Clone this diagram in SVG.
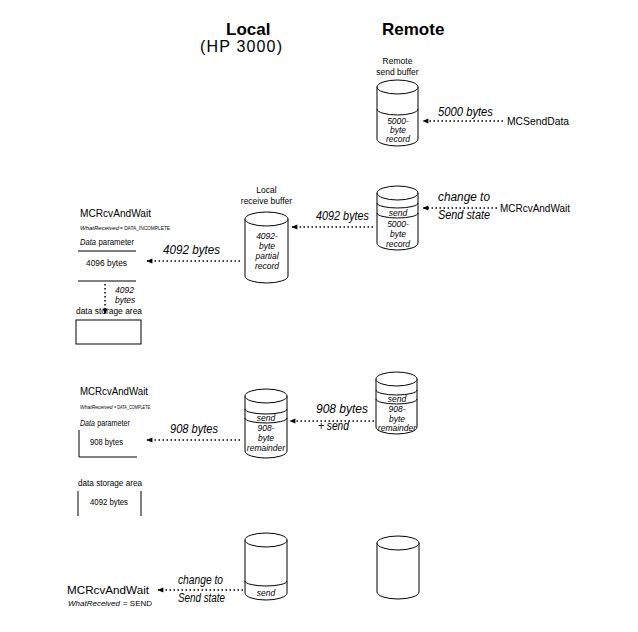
<svg xmlns="http://www.w3.org/2000/svg" width="638" height="632" viewBox="0 0 638 632">
<defs>
<style>
text{font-family:"Liberation Sans",Arial,sans-serif;fill:#000}
.h{font-size:17px;font-weight:bold}
.sub{font-size:16px}
.fn{font-size:11.5px}
.wr{font-size:7px}
.lbl{font-size:8.5px}
.sm{font-size:8.5px;font-style:italic}
.al{font-size:12px;font-style:italic}
.it{font-style:italic}
.cyl{fill:#fff;stroke:#000;stroke-width:1}
.ln{fill:none;stroke:#000;stroke-width:1}
.dot{fill:none;stroke:#000;stroke-width:1.5;stroke-dasharray:1.5 2.5}
.mid{text-anchor:middle}
</style>
<marker id="ah" viewBox="0 0 10 10" refX="9" refY="5" markerWidth="8" markerHeight="6" markerUnits="userSpaceOnUse" orient="auto">
<path d="M0,1 L10,5 L0,9 Z" fill="#000"/>
</marker>
</defs>
<rect width="638" height="632" fill="#fff"/>

<g id="headers">
<text class="h" x="226" y="35">Local</text>
<text class="sub" x="200" y="52" textLength="82" lengthAdjust="spacing">(HP 3000)</text>
<text class="h" x="382" y="35">Remote</text>
</g>

<!-- Section 1 -->
<g id="remote-send-buffer">
<text class="lbl mid" x="397.5" y="64">Remote</text>
<text class="lbl mid" x="397.5" y="75">send buffer</text>
<path class="cyl" d="M377 87 V139 A20.5 7 0 0 0 418 139 V87"/>
<ellipse class="cyl" cx="397.5" cy="87" rx="20.5" ry="7"/>
<path class="ln" d="M377 109 A20.5 6 0 0 0 418 109"/>
<text class="sm mid" x="398" y="124">5000-</text>
<text class="sm mid" x="398" y="133">byte</text>
<text class="sm mid" x="398" y="142">record</text>
</g>
<g id="mcsenddata">
<text class="fn" x="507" y="125" textLength="62" lengthAdjust="spacingAndGlyphs">MCSendData</text>
</g>

<!-- Section 2 -->
<g id="remote-buffer-2">
<path class="cyl" d="M377 193 V243 A20.5 7 0 0 0 418 243 V193"/>
<ellipse class="cyl" cx="397.5" cy="193" rx="20.5" ry="7"/>
<path class="ln" d="M377 203 A20.5 5 0 0 0 418 203"/>
<path class="ln" d="M377 213 A20.5 5 0 0 0 418 213"/>
<text class="sm mid" x="398" y="216">send</text>
<text class="sm mid" x="398" y="227">5000-</text>
<text class="sm mid" x="398" y="237">byte</text>
<text class="sm mid" x="398" y="247">record</text>
</g>
<g id="mcrcv-remote">
<text class="fn" x="500" y="212" textLength="70" lengthAdjust="spacingAndGlyphs">MCRcvAndWait</text>
</g>
<g id="local-buffer-2">
<text class="lbl mid" x="266.5" y="193">Local</text>
<text class="lbl mid" x="266.5" y="204">receive buffer</text>
<path class="cyl" d="M245 219 V276 A21.5 7 0 0 0 288 276 V219"/>
<ellipse class="cyl" cx="266.5" cy="219" rx="21.5" ry="7"/>
<text class="sm mid" x="267" y="239">4092-</text>
<text class="sm mid" x="267" y="249">byte</text>
<text class="sm mid" x="267" y="259">partial</text>
<text class="sm mid" x="267" y="269">record</text>
</g>
<g id="mcrcv-2">
<text class="fn" x="80" y="216.5" textLength="71" lengthAdjust="spacingAndGlyphs">MCRcvAndWait</text>
<text class="it" x="80" y="230" font-size="6">WhatReceived</text>
<text x="120" y="230" font-size="6" textLength="50" lengthAdjust="spacingAndGlyphs">= DATA_INCOMPLETE</text>
</g>
<g id="data-param-2">
<text class="lbl it" x="80" y="245" textLength="16" lengthAdjust="spacingAndGlyphs">Data</text>
<text class="lbl" x="98.5" y="245" textLength="35.5" lengthAdjust="spacingAndGlyphs">parameter</text>
<path class="ln" d="M78 251 H136 M78 281 H136"/>
<text class="lbl" x="86" y="266" textLength="41" lengthAdjust="spacingAndGlyphs">4096 bytes</text>
</g>
<g id="data-storage-2">
<text class="lbl" x="76" y="314" textLength="66" lengthAdjust="spacingAndGlyphs">data storage area</text>
<rect class="ln" x="76" y="320" width="65" height="24"/>
</g>

<!-- Section 3 -->
<g id="mcrcv-3">
<text class="fn" x="80" y="395" textLength="68" lengthAdjust="spacingAndGlyphs">MCRcvAndWait</text>
<text class="it" x="80" y="408.5" font-size="5">WhatReceived</text>
<text x="114" y="408.5" font-size="5.5" textLength="36" lengthAdjust="spacingAndGlyphs">= DATA_COMPLETE</text>
</g>
<g id="data-param-3">
<text class="lbl it" x="80" y="426" textLength="15" lengthAdjust="spacingAndGlyphs">Data</text>
<text class="lbl" x="97.2" y="426" textLength="32.8" lengthAdjust="spacingAndGlyphs">parameter</text>
<path class="ln" d="M79 430 V457 H137"/>
<text class="lbl" x="90" y="445" textLength="33" lengthAdjust="spacingAndGlyphs">908 bytes</text>
</g>
<g id="data-storage-3">
<text class="lbl" x="78" y="486" textLength="64" lengthAdjust="spacingAndGlyphs">data storage area</text>
<path class="ln" d="M78 491 V516 M141 491 V516"/>
<text class="lbl" x="90" y="505" textLength="38" lengthAdjust="spacingAndGlyphs">4092 bytes</text>
</g>
<g id="local-buffer-3">
<path class="cyl" d="M245 396 V451 A21 7 0 0 0 287 451 V396"/>
<ellipse class="cyl" cx="266" cy="396" rx="21" ry="7"/>
<path class="ln" d="M245 409 A21 5 0 0 0 287 409"/>
<path class="ln" d="M245 418 A21 5 0 0 0 287 418"/>
<text class="sm mid" x="266" y="421">send</text>
<text class="sm mid" x="266" y="431">908-</text>
<text class="sm mid" x="266" y="441">byte</text>
<text class="sm mid" x="266" y="451">remainder</text>
</g>
<g id="remote-buffer-3">
<path class="cyl" d="M376 379 V427 A20.5 7 0 0 0 417 427 V379"/>
<ellipse class="cyl" cx="396.5" cy="379" rx="20.5" ry="7"/>
<path class="ln" d="M376 390 A20.5 5 0 0 0 417 390"/>
<path class="ln" d="M376 399 A20.5 5 0 0 0 417 399"/>
<text class="sm mid" x="397" y="402">send</text>
<text class="sm mid" x="397" y="412">908-</text>
<text class="sm mid" x="397" y="422">byte</text>
<text class="sm mid" x="397" y="431">remainder</text>
</g>

<!-- Section 4 -->
<g id="local-buffer-4">
<path class="cyl" d="M245 540 V593 A21 7 0 0 0 287 593 V540"/>
<ellipse class="cyl" cx="266" cy="540" rx="21" ry="7"/>
<path class="ln" d="M245 581 A21 5 0 0 0 287 581"/>
<text class="sm mid" x="266" y="596">send</text>
</g>
<g id="remote-buffer-4">
<path class="cyl" d="M377 543 V592 A21 7 0 0 0 419 592 V543"/>
<ellipse class="cyl" cx="398" cy="543" rx="21" ry="7"/>
</g>
<g id="mcrcv-4">
<text class="fn" x="67" y="594" textLength="82" lengthAdjust="spacingAndGlyphs">MCRcvAndWait</text>
<text class="wr it" x="68" y="606" textLength="52" lengthAdjust="spacingAndGlyphs">WhatReceived</text>
<text class="wr" x="123" y="606" textLength="29" lengthAdjust="spacingAndGlyphs">= SEND</text>
</g>

<g id="connectors">
<path class="dot" d="M503 121 H423" marker-end="url(#ah)"/>
<text class="al" x="438" y="116" textLength="55" lengthAdjust="spacingAndGlyphs">5000 bytes</text>
<path class="dot" d="M497 208 H423" marker-end="url(#ah)"/>
<text class="al" x="438" y="201" textLength="52" lengthAdjust="spacingAndGlyphs">change to</text>
<text class="al" x="438" y="219" textLength="52" lengthAdjust="spacingAndGlyphs">Send state</text>
<path class="dot" d="M373 227 H292" marker-end="url(#ah)"/>
<text class="al" x="316" y="220" textLength="53" lengthAdjust="spacingAndGlyphs">4092 bytes</text>
<path class="dot" d="M240 261 H147" marker-end="url(#ah)"/>
<text class="al" x="163" y="254" textLength="57" lengthAdjust="spacingAndGlyphs">4092 bytes</text>
<path class="dot" d="M105 284 V314" marker-end="url(#ah)"/>
<text class="sm" x="115" y="293">4092</text>
<text class="sm" x="115" y="303">bytes</text>
<path class="dot" d="M374 421 H290" marker-end="url(#ah)"/>
<text class="al" x="316" y="413" textLength="52" lengthAdjust="spacingAndGlyphs">908 bytes</text>
<text class="al" x="318" y="430" textLength="31" lengthAdjust="spacingAndGlyphs">+ send</text>
<path class="dot" d="M240 440 H147" marker-end="url(#ah)"/>
<text class="al" x="170" y="433" textLength="48" lengthAdjust="spacingAndGlyphs">908 bytes</text>
<path class="dot" d="M243 590 H158" marker-end="url(#ah)"/>
<text class="al" x="178" y="584" textLength="45" lengthAdjust="spacingAndGlyphs">change to</text>
<text class="al" x="178" y="602" textLength="47" lengthAdjust="spacingAndGlyphs">Send state</text>
</g>
</svg>
